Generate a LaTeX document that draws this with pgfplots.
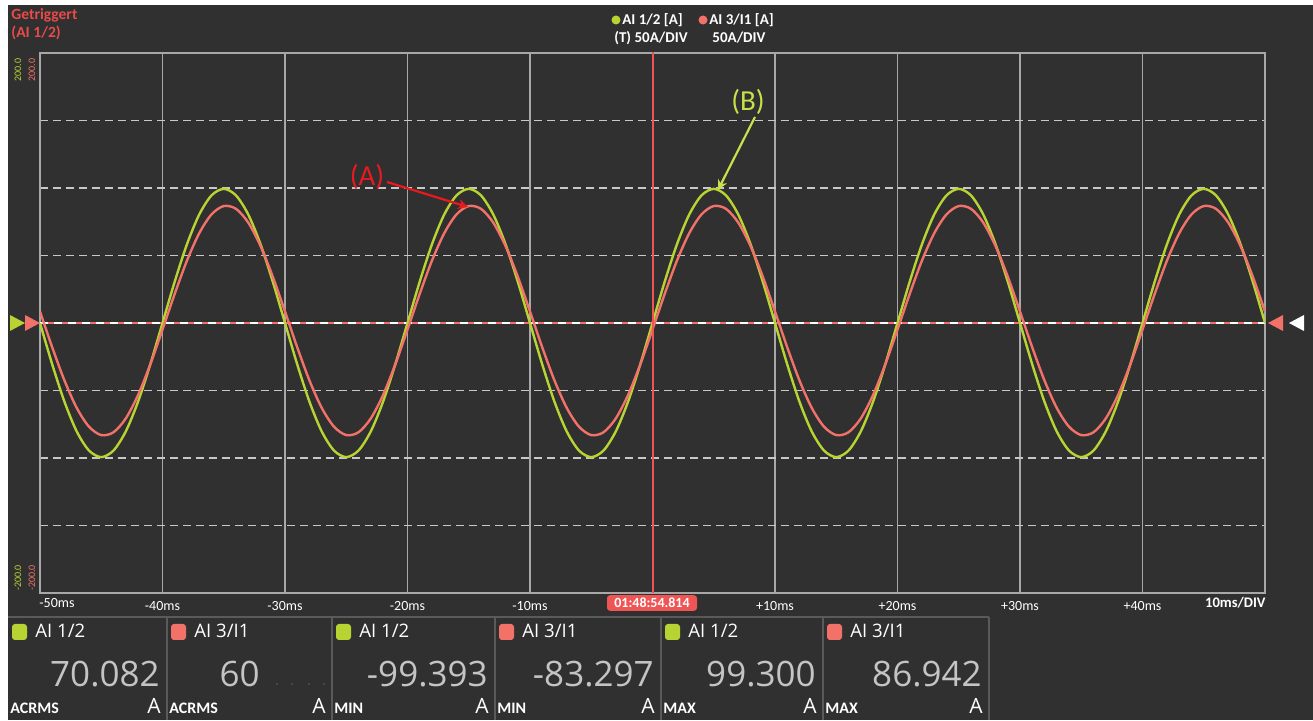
\documentclass[border=0pt]{standalone}
\usepackage{pgfplots}
\pgfplotsset{compat=1.18}
\usepackage{pgfplotstable}
\usepackage{fontspec}
\setmainfont{Carlito}
\newfontfamily\os{Open Sans}
\usetikzlibrary{arrows.meta}

\definecolor{bg}{HTML}{303030}
\definecolor{gridgray}{HTML}{A8A8A8}
\definecolor{dashgray}{HTML}{C8C8C8}
\definecolor{sgreen}{HTML}{B8D432}
\definecolor{ssalmon}{HTML}{F2726A}
\definecolor{cursorred}{HTML}{F05555}
\definecolor{annred}{HTML}{E81A1E}
\definecolor{anngreen}{HTML}{C8E04A}
\definecolor{valgray}{HTML}{C4C4C4}
\definecolor{trigred}{HTML}{E84A4A}
\definecolor{sepgray}{HTML}{5A5A5A}
\definecolor{dotblue}{HTML}{556070}

\pgfplotstableread{
t g r
-50 0 8.48
-49 -30.70 -18.06
-48 -58.40 -42.66
-47 -80.37 -62.91
-46 -94.49 -76.82
-45 -99.35 -83.04
-44 -94.49 -80.95
-43 -80.37 -70.76
-42 -58.40 -53.46
-41 -30.70 -30.77
-40 0 -4.88
-39 30.70 21.66
-38 58.40 46.26
-37 80.37 66.51
-36 94.49 80.42
-35 99.35 86.64
-34 94.49 84.55
-33 80.37 74.36
-32 58.40 57.06
-31 30.70 34.37
-30 0 8.48
-29 -30.70 -18.06
-28 -58.40 -42.66
-27 -80.37 -62.91
-26 -94.49 -76.82
-25 -99.35 -83.04
-24 -94.49 -80.95
-23 -80.37 -70.76
-22 -58.40 -53.46
-21 -30.70 -30.77
-20 0 -4.88
-19 30.70 21.66
-18 58.40 46.26
-17 80.37 66.51
-16 94.49 80.42
-15 99.35 86.64
-14 94.49 84.55
-13 80.37 74.36
-12 58.40 57.06
-11 30.70 34.37
-10 0 8.48
-9 -30.70 -18.06
-8 -58.40 -42.66
-7 -80.37 -62.91
-6 -94.49 -76.82
-5 -99.35 -83.04
-4 -94.49 -80.95
-3 -80.37 -70.76
-2 -58.40 -53.46
-1 -30.70 -30.77
0 0 -4.88
1 30.70 21.66
2 58.40 46.26
3 80.37 66.51
4 94.49 80.42
5 99.35 86.64
6 94.49 84.55
7 80.37 74.36
8 58.40 57.06
9 30.70 34.37
10 0 8.48
11 -30.70 -18.06
12 -58.40 -42.66
13 -80.37 -62.91
14 -94.49 -76.82
15 -99.35 -83.04
16 -94.49 -80.95
17 -80.37 -70.76
18 -58.40 -53.46
19 -30.70 -30.77
20 0 -4.88
21 30.70 21.66
22 58.40 46.26
23 80.37 66.51
24 94.49 80.42
25 99.35 86.64
26 94.49 84.55
27 80.37 74.36
28 58.40 57.06
29 30.70 34.37
30 0 8.48
31 -30.70 -18.06
32 -58.40 -42.66
33 -80.37 -62.91
34 -94.49 -76.82
35 -99.35 -83.04
36 -94.49 -80.95
37 -80.37 -70.76
38 -58.40 -53.46
39 -30.70 -30.77
40 0 -4.88
41 30.70 21.66
42 58.40 46.26
43 80.37 66.51
44 94.49 80.42
45 99.35 86.64
46 94.49 84.55
47 80.37 74.36
48 58.40 57.06
49 30.70 34.37
50 0 8.48
}\wave

\newcommand{\panel}[6]{%
  \fill[#3, rounded corners=1.5pt] (#1+4,624) rectangle (#1+19,640);
  \node[anchor=base west, inner sep=0, text=white, font=\os\fontsize{9.3}{10}\selectfont] at (#1+27,638) {#4};
  \node[anchor=base east, inner sep=0, text=valgray, font=\os\fontsize{17.5}{18}\selectfont] at (#2-7,687) {#5};
  \node[anchor=base west, inner sep=0, text=white, font=\bfseries\fontsize{8}{8}\selectfont] at (#1+2,714) {#6};
  \node[anchor=base east, inner sep=0, text=white, font=\os\fontsize{10.5}{11}\selectfont] at (#2-6,714) {A};
}

\begin{document}
\begin{tikzpicture}
\begin{scope}[x=0.5pt,y=-0.5pt]
  \fill[white] (0,0) rectangle (1313,720);
  \fill[bg] (8,5) rectangle (1313,720);
\end{scope}

\begin{axis}[
  at={(20pt,-26.5pt)}, anchor=north west,
  scale only axis, width=612.5pt, height=270pt,
  xmin=-50, xmax=50, ymin=-200, ymax=200,
  axis line style={draw=gridgray, line width=0.9pt},
  xtick={-40,-30,-20,-10,0,10,20,30,40},
  xticklabels={-40ms,-30ms,-20ms,-10ms,,+10ms,+20ms,+30ms,+40ms},
  ytick={-150,-100,-50,50,100,150}, yticklabels={},
  major tick length=0pt,
  xmajorgrids, ymajorgrids,
  x grid style={draw=gridgray, line width=0.8pt},
  y grid style={draw=dashgray, line width=0.6pt, dash pattern=on 4pt off 2.5pt},
  xticklabel style={font=\fontsize{7}{7}\selectfont, text=white, yshift=-0.3pt},
  typeset ticklabels with strut,
]
  \draw[ssalmon, line width=1.4pt] (axis cs:-50,0) -- (axis cs:50,0);
  \draw[white, line width=0.8pt, dash pattern=on 4pt off 3pt] (axis cs:-50,0) -- (axis cs:50,0);
  \addplot[sgreen, line width=1.2pt, smooth, no marks] table[x=t, y=g] {\wave};
  \addplot[ssalmon, line width=1.2pt, smooth, no marks] table[x=t, y=r] {\wave};
  \draw[cursorred, line width=1pt] (axis cs:0,-200) -- (axis cs:0,203);
\end{axis}

\begin{scope}[x=0.5pt,y=-0.5pt]
  % trigger text
  \node[anchor=base west, inner sep=0, text=trigred, font=\bfseries\fontsize{7.8}{8}\selectfont] at (11,20) {Getriggert};
  \node[anchor=base west, inner sep=0, text=trigred, font=\bfseries\fontsize{7.8}{8}\selectfont] at (11,38) {(AI 1/2)};
  % legend
  \fill[sgreen] (616,20) circle (4.5);
  \node[anchor=west, inner sep=0, text=white, font=\bfseries\fontsize{7.5}{8}\selectfont] at (622,20) {AI 1/2 [A]};
  \node[anchor=center, inner sep=0, text=white, font=\bfseries\fontsize{7.5}{8}\selectfont] at (651,38) {(T) 50A/DIV};
  \fill[ssalmon] (703,20) circle (4.5);
  \node[anchor=west, inner sep=0, text=white, font=\bfseries\fontsize{7.5}{8}\selectfont] at (709,20) {AI 3/I1 [A]};
  \node[anchor=center, inner sep=0, text=white, font=\bfseries\fontsize{7.5}{8}\selectfont] at (739,38) {50A/DIV};
  % y scale labels
  \node[rotate=90, inner sep=0, text=sgreen, font=\fontsize{5}{5}\selectfont] at (18,70) {200.0};
  \node[rotate=90, inner sep=0, text=ssalmon, font=\fontsize{5}{5}\selectfont] at (32,70) {200.0};
  \node[rotate=90, inner sep=0, text=sgreen, font=\fontsize{5}{5}\selectfont] at (18,578) {-200.0};
  \node[rotate=90, inner sep=0, text=ssalmon, font=\fontsize{5}{5}\selectfont] at (32,578) {-200.0};
  % edge markers
  \fill[sgreen] (10,315) -- (25,323) -- (10,331) -- cycle;
  \fill[ssalmon] (25,315) -- (40,323) -- (25,331) -- cycle;
  \fill[ssalmon] (1283,315) -- (1268,323) -- (1283,331) -- cycle;
  \fill[white] (1304,315) -- (1289,323) -- (1304,331) -- cycle;
  % extra x labels
  \node[anchor=base, inner sep=0, text=white, font=\fontsize{7}{7}\selectfont] at (57,608) {-50ms};
  \node[anchor=base east, inner sep=0, text=white, font=\bfseries\fontsize{7.3}{7}\selectfont] at (1266,608) {10ms/DIV};
  \node[fill=cursorred, rounded corners=1.5pt, text=white, inner sep=0, minimum width=45pt, minimum height=7.8pt, font=\bfseries\fontsize{7}{7}\selectfont] at (652,603) {01:48:54.814};
  % annotations
  \node[text=annred, inner sep=0, font=\fontsize{14.5}{15}\selectfont] at (367,177) {(A)};
  \draw[annred, line width=1.1pt, -{Stealth[length=5pt,width=5pt]}] (387,182) -- (468,207);
  \node[text=anngreen, inner sep=0, font=\fontsize{14.5}{15}\selectfont] at (748,102) {(B)};
  \draw[anngreen, line width=1.1pt, -{Stealth[length=5pt,width=5pt]}] (755,117) -- (718,190);
  % bottom panels
  \draw[sepgray, line width=0.6pt] (8,617) -- (989,617);
  \foreach \xx in {167,332,495,661,823,989} {\draw[sepgray, line width=0.6pt] (\xx,617) -- (\xx,720);}
  \panel{8}{167}{sgreen}{AI 1/2}{70.082}{ACRMS}
  \panel{167}{332}{ssalmon}{AI 3/I1}{}{ACRMS}
  \node[anchor=base east, inner sep=0, text=valgray, font=\os\fontsize{17.5}{18}\selectfont] at (260,687) {60};
  \foreach \dx in {277,292,309,324} {\fill[dotblue] (\dx,684) circle (0.9);}
  \panel{332}{495}{sgreen}{AI 1/2}{-99.393}{MIN}
  \panel{495}{661}{ssalmon}{AI 3/I1}{-83.297}{MIN}
  \panel{661}{823}{sgreen}{AI 1/2}{99.300}{MAX}
  \panel{823}{989}{ssalmon}{AI 3/I1}{86.942}{MAX}
\end{scope}
\end{tikzpicture}
\end{document}
